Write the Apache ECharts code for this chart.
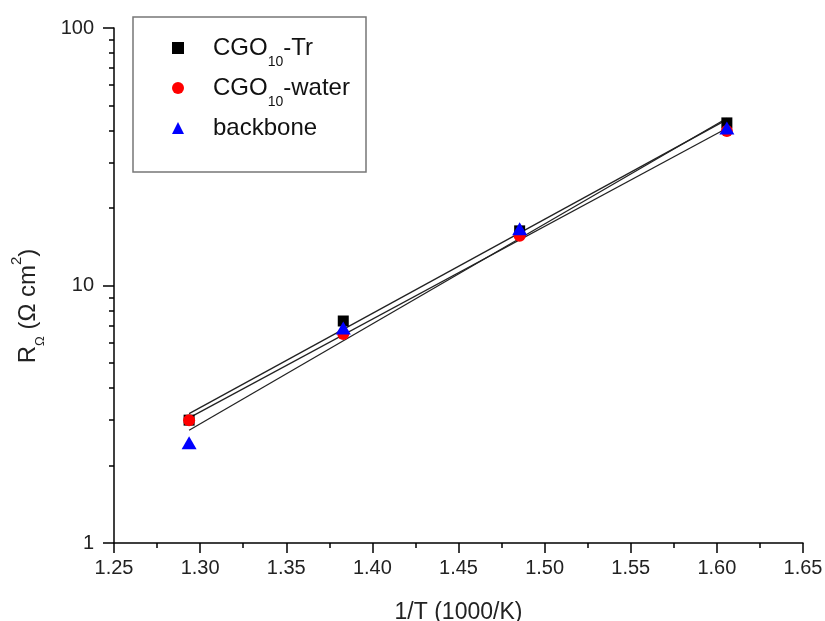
<!DOCTYPE html>
<html>
<head>
<meta charset="utf-8">
<script src="https://cdn.jsdelivr.net/npm/echarts@6/dist/echarts.min.js"></script>
<style>html,body{margin:0;padding:0;background:#fff}#c{width:825px;height:621px}</style>
</head>
<body>
<div id="c"></div>
<script>
// ---- data ----
const seriesNames = ['CGO10-Tr', 'CGO10-water', 'backbone'];
const invT = [1.2936, 1.3831, 1.4855, 1.6058];          // 1/T (1000/K)
const rTr = [3.00, 7.28, 16.3, 42.8];                   // R_Ω CGO10-Tr
const rWater = [3.00, 6.48, 15.6, 39.8];                // R_Ω CGO10-water
const rBackbone = [2.45, 6.84, 16.6, 40.9];             // R_Ω backbone
const fitX = [1.2936, 1.6058];                          // fit line ends
const fitTr = [3.18, 44.1];
const fitWater = [3.06, 40.8];
const fitBackbone = [2.74, 44.6];
const yMinorTicks = [2, 3, 4, 5, 6, 7, 8, 9, 20, 30, 40, 50, 60, 70, 80, 90];
const xAxisTitle = '1/T (1000/K)';

const FONT = 'Liberation Sans, Arial, sans-serif';
const pair = (xs, ys) => xs.map((x, i) => [x, ys[i]]);

const chart = echarts.init(document.getElementById('c'), null, {renderer: 'canvas'});
const axisLineStyle = {color: '#000', width: 1.5};

const legendLabels = {
  'CGO10-Tr': '{n|CGO}{s|10}{n|-Tr}',
  'CGO10-water': '{n|CGO}{s|10}{n|-water}',
  'backbone': '{n|backbone}{s| }'
};

chart.setOption({
  animation: false,
  backgroundColor: '#fff',
  grid: {left: 114, right: 22, top: 28, bottom: 78, containLabel: false, outerBoundsMode: 'none'},
  xAxis: {
    type: 'value', min: 1.25, max: 1.65, interval: 0.05,
    axisLine: {lineStyle: axisLineStyle},
    axisTick: {length: 10, lineStyle: axisLineStyle},
    minorTick: {show: true, splitNumber: 2, length: 5, lineStyle: axisLineStyle},
    splitLine: {show: false},
    axisLabel: {formatter: v => v.toFixed(2), fontSize: 20, color: '#222', margin: 15, fontFamily: FONT},
    name: xAxisTitle, nameLocation: 'middle', nameGap: 58,
    nameTextStyle: {fontSize: 23, color: '#222', fontFamily: FONT}
  },
  yAxis: [{
    type: 'log', logBase: 10, min: 1, max: 100,
    axisLine: {lineStyle: axisLineStyle},
    axisTick: {length: 11, lineStyle: axisLineStyle},
    minorTick: {show: false},
    splitLine: {show: false},
    axisLabel: {fontSize: 20, color: '#222', margin: 20, fontFamily: FONT}
  }, {
    type: 'log', logBase: 10, min: 1, max: 100, position: 'left',
    axisLine: {show: false},
    axisTick: {show: true, customValues: yMinorTicks, length: 5, lineStyle: axisLineStyle},
    axisLabel: {show: false},
    splitLine: {show: false}
  }],
  legend: {
    orient: 'vertical', left: 172, top: 27, padding: 0, itemGap: -2,
    itemWidth: 12, itemHeight: 12,
    data: seriesNames,
    formatter: name => legendLabels[name],
    textStyle: {
      padding: [0, 0, 0, 24],
      rich: {
        n: {fontSize: 24, color: '#111', fontFamily: FONT, lineHeight: 32},
        s: {fontSize: 14, color: '#111', fontFamily: FONT, lineHeight: 14, padding: [28, 0, 0, 0], verticalAlign: 'middle'}
      }
    }
  },
  graphic: [{
    type: 'rect', z: 100,
    shape: {x: 133, y: 17, width: 233, height: 155},
    style: {fill: 'none', stroke: '#777', lineWidth: 1.5}
  }, {
    type: 'text', x: 28, y: 306, rotation: Math.PI / 2, z: 100,
    style: {
      text: '{n|R}{s|Ω}{n| (Ω cm}{p|2}{n|)}',
      align: 'center', verticalAlign: 'middle',
      rich: {
        n: {fontSize: 24, fill: '#222', fontFamily: FONT, lineHeight: 38},
        s: {fontSize: 13, fill: '#222', fontFamily: FONT, lineHeight: 13, verticalAlign: 'bottom'},
        p: {fontSize: 15, fill: '#222', fontFamily: FONT, lineHeight: 22, verticalAlign: 'top'}
      }
    }
  }],
  series: [
    {type: 'line', data: pair(fitX, fitTr), showSymbol: false, symbol: 'none', silent: true, z: 1,
     lineStyle: {color: '#222', width: 1.3}},
    {type: 'line', data: pair(fitX, fitWater), showSymbol: false, symbol: 'none', silent: true, z: 1,
     lineStyle: {color: '#222', width: 1.3}},
    {type: 'line', data: pair(fitX, fitBackbone), showSymbol: false, symbol: 'none', silent: true, z: 1,
     lineStyle: {color: '#222', width: 1.3}},
    {name: seriesNames[0], type: 'scatter', data: pair(invT, rTr), symbol: 'rect', symbolSize: 11, z: 3,
     itemStyle: {color: '#000', opacity: 1}},
    {name: seriesNames[1], type: 'scatter', data: pair(invT, rWater), symbol: 'circle', symbolSize: 12, z: 4,
     itemStyle: {color: '#ff0000', opacity: 1}},
    {name: seriesNames[2], type: 'scatter', data: pair(invT, rBackbone), symbol: 'triangle', symbolSize: [15, 13], z: 5,
     itemStyle: {color: '#0000ff', opacity: 1}}
  ]
});
</script>
</body>
</html>
